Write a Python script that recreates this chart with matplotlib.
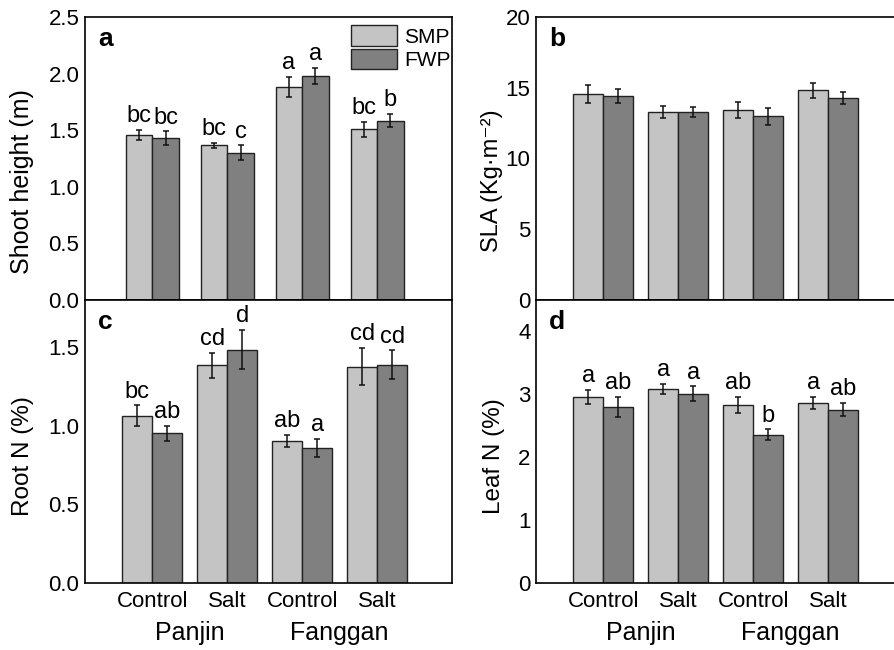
import matplotlib

matplotlib.use("Agg")
import matplotlib.pyplot as plt  # noqa: E402
import matplotlib.transforms as mtransforms  # noqa: E402
import numpy as np  # noqa: E402

plt.rcParams["font.family"] = ["Liberation Sans", "DejaVu Sans"]

TREATMENTS = ["Control", "Salt", "Control", "Salt"]
SITES = ["Panjin", "Fanggan"]
SERIES = ["SMP", "FWP"]

# shoot height (m)
height_smp = [1.46, 1.365, 1.88, 1.51]
height_smp_err = [0.045, 0.02, 0.088, 0.066]
height_fwp = [1.43, 1.30, 1.98, 1.585]
height_fwp_err = [0.06, 0.065, 0.07, 0.056]
height_smp_lett = ["bc", "bc", "a", "bc"]
height_fwp_lett = ["bc", "c", "a", "b"]

# SLA
sla_smp = [14.55, 13.28, 13.44, 14.83]
sla_smp_err = [0.63, 0.40, 0.58, 0.53]
sla_fwp = [14.43, 13.28, 12.97, 14.29]
sla_fwp_err = [0.48, 0.35, 0.57, 0.44]

# root N (%)
rootn_smp = [1.063, 1.386, 0.904, 1.377]
rootn_smp_err = [0.066, 0.08, 0.036, 0.119]
rootn_fwp = [0.951, 1.485, 0.857, 1.388]
rootn_fwp_err = [0.049, 0.126, 0.058, 0.092]
rootn_smp_lett = ["bc", "cd", "ab", "cd"]
rootn_fwp_lett = ["ab", "d", "a", "cd"]

# leaf N (%)
leafn_smp = [2.957, 3.085, 2.83, 2.862]
leafn_smp_err = [0.11, 0.08, 0.133, 0.10]
leafn_fwp = [2.803, 3.011, 2.356, 2.755]
leafn_fwp_err = [0.157, 0.117, 0.085, 0.107]
leafn_smp_lett = ["a", "a", "ab", "a"]
leafn_fwp_lett = ["ab", "a", "b", "ab"]

LIGHT = "#c4c4c4"
DARK = "#808080"
EDGE = "#222222"

W, H = 895, 650
fig = plt.figure(figsize=(W / 100, H / 100), dpi=100)


def px_axes(left, top, right, bottom):
    return fig.add_axes([left / W, 1 - bottom / H, (right - left) / W, (bottom - top) / H])


ax_a = px_axes(85, 17, 452, 300)
ax_c = px_axes(85, 300, 452, 583)
ax_b = px_axes(536, 17, 903, 300)
ax_d = px_axes(536, 300, 903, 583)

x = np.arange(1, len(TREATMENTS) + 1)


def panel(ax, smp, smp_err, fwp, fwp_err, width, ylim, yticks, fmt, ylabel, tag,
          smp_lett=None, fwp_lett=None, xlabels=False, ylabel_size=17.5):
    for vals, errs, col, off, name, lett in (
        (smp, smp_err, LIGHT, -width / 2, SERIES[0], smp_lett),
        (fwp, fwp_err, DARK, width / 2, SERIES[1], fwp_lett),
    ):
        ax.bar(x + off, vals, width, color=col, edgecolor=EDGE, linewidth=1.0,
               label=name, zorder=2)
        ax.errorbar(x + off, vals, yerr=errs, fmt="none", ecolor="#111111",
                    elinewidth=1.1, capsize=2.5, capthick=1.1, zorder=3)
        if lett:
            for xi, v, e, t in zip(x + off, vals, errs, lett):
                ax.annotate(t, (xi, v + e), xytext=(0, 2), textcoords="offset points",
                            ha="center", va="bottom", fontsize=17)
    ax.set_xlim(0.1, 5.0)
    ax.set_ylim(*ylim)
    ax.set_yticks(yticks)
    ax.set_yticklabels([fmt.format(t) for t in yticks])
    ax.tick_params(length=0, labelsize=16, pad=4)
    ax.set_ylabel(ylabel, fontsize=ylabel_size)
    ax.text(0.035, 0.965, tag, transform=ax.transAxes, fontsize=19,
            fontweight="bold", ha="left", va="top")
    for s in ax.spines.values():
        s.set_linewidth(1.2)
    if xlabels:
        ax.set_xticks(x)
        ax.set_xticklabels(TREATMENTS, fontsize=16)
        ax.tick_params(axis="x", pad=6)
        tr = mtransforms.blended_transform_factory(ax.transData, ax.transAxes)
        for pos, site in zip((1.5, 3.5), SITES):
            ax.text(pos, -0.175, site, transform=tr, ha="center", va="center",
                    fontsize=18)
    else:
        ax.set_xticks([])


panel(ax_a, height_smp, height_smp_err, height_fwp, height_fwp_err, 0.353,
      (0, 2.5), [0.0, 0.5, 1.0, 1.5, 2.0, 2.5], "{:.1f}", "Shoot height (m)", "a",
      height_smp_lett, height_fwp_lett, ylabel_size=18)
panel(ax_b, sla_smp, sla_smp_err, sla_fwp, sla_fwp_err, 0.4,
      (0, 20), [0, 5, 10, 15, 20], "{:d}", "SLA (Kg\u00b7m\u207b\u00b2)", "b",
      ylabel_size=17)
panel(ax_c, rootn_smp, rootn_smp_err, rootn_fwp, rootn_fwp_err, 0.4,
      (0, 1.8), [0.0, 0.5, 1.0, 1.5], "{:.1f}", "Root N (%)", "c",
      rootn_smp_lett, rootn_fwp_lett, xlabels=True)
panel(ax_d, leafn_smp, leafn_smp_err, leafn_fwp, leafn_fwp_err, 0.4,
      (0, 4.5), [0, 1, 2, 3, 4], "{:d}", "Leaf N (%)", "d",
      leafn_smp_lett, leafn_fwp_lett, xlabels=True)

ax_a.yaxis.set_label_coords(-0.14, 0.42)
ax_c.yaxis.set_label_coords(-0.14, 0.45)
ax_b.yaxis.set_label_coords(-0.09, 0.42)
ax_d.yaxis.set_label_coords(-0.085, 0.45)

ax_a.legend(loc="upper right", bbox_to_anchor=(1.03, 1.015), frameon=False,
            fontsize=15, handlelength=2.2, handleheight=1.15, handletextpad=0.35,
            labelspacing=0.1, borderaxespad=0.2)

fig.savefig("out.png", dpi=100)
